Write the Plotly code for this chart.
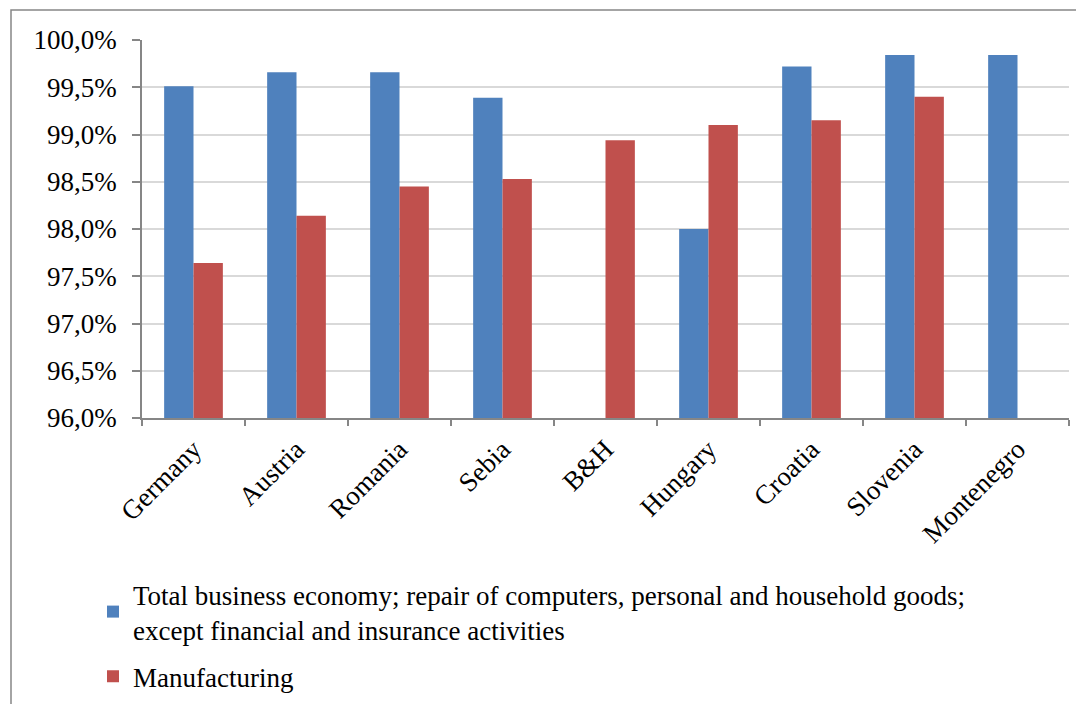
import plotly.graph_objects as go

countries = ["Germany", "Austria", "Romania", "Sebia", "B&H", "Hungary", "Croatia", "Slovenia", "Montenegro"]
total_business = [99.51, 99.66, 99.66, 99.39, None, 98.00, 99.72, 99.84, 99.84]
manufacturing = [97.64, 98.14, 98.45, 98.53, 98.94, 99.10, 99.15, 99.40, None]
y_ticks = [96.0, 96.5, 97.0, 97.5, 98.0, 98.5, 99.0, 99.5, 100.0]
y_tick_labels = ["96,0%", "96,5%", "97,0%", "97,5%", "98,0%", "98,5%", "99,0%", "99,5%", "100,0%"]

name_total = "Total business economy; repair of computers, personal and household goods;<br>except financial and insurance activities"
name_manu = "Manufacturing"

FONT = "Liberation Serif"
OFF = 8  # page body margin offset

fig = go.Figure()
fig.add_trace(go.Bar(x=countries, y=total_business, base=0, name=name_total, legendgroup="a",
                     marker=dict(color="#4F81BD", line=dict(width=0))))
fig.add_trace(go.Bar(x=countries, y=manufacturing, base=0, name=name_manu, legendgroup="b",
                     marker=dict(color="#C0504D", line=dict(width=0))))

W, H = 1084, 704
# target plot area on screen: x 142..1069, y 40..418
L = 142 - OFF
T = 40 - OFF
R = W - (1069 - OFF)
B = H - (418 - OFF)
pw, ph = W - L - R, H - T - B

def px(x):
    return (x - OFF - L) / pw

def py(y):
    return (H - B - (y - OFF)) / ph

fig.update_layout(
    width=W, height=H,
    margin=dict(l=L, r=R, t=T, b=B, autoexpand=False),
    paper_bgcolor="white", plot_bgcolor="white",
    barmode="group", bargap=0.43, bargroupgap=0,
    font=dict(family=FONT, size=27, color="black"),
    showlegend=True,
    legend=dict(x=px(93), y=py(570), xanchor="left", yanchor="top",
                orientation="v", font=dict(family=FONT, size=27),
                tracegroupgap=9, bgcolor="rgba(0,0,0,0)"),
    shapes=[dict(type="rect", xref="paper", yref="paper",
                 x0=px(11), x1=px(1110), y0=py(10), y1=py(730),
                 line=dict(color="#868686", width=1.5), layer="below")],
)
fig.update_xaxes(
    type="category", tickangle=-45, tickson="boundaries",
    ticks="outside", ticklen=6, tickcolor="#868686", tickwidth=1.5,
    showline=True, linecolor="#868686", linewidth=1.5,
    showgrid=False, tickfont=dict(family=FONT, size=27),
    ticklabelstandoff=3,
)
fig.update_yaxes(
    range=[96, 100], tickvals=y_ticks, ticktext=y_tick_labels,
    ticks="outside", ticklen=8, tickcolor="#868686", tickwidth=1.5,
    showline=True, linecolor="#868686", linewidth=1.5,
    showgrid=True, gridcolor="#D9D9D9", gridwidth=1.5,
    tickfont=dict(family=FONT, size=27), zeroline=False,
    ticklabelstandoff=10,
)

fig.write_html("out.html")
